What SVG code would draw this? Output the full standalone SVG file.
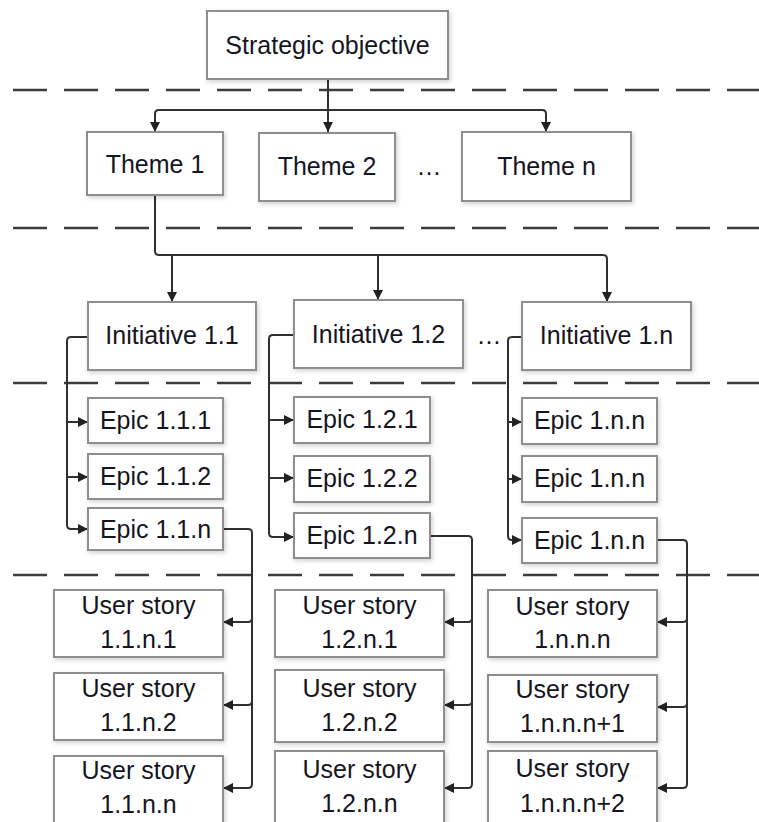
<svg xmlns="http://www.w3.org/2000/svg" width="759" height="822" viewBox="0 0 759 822">
<style>
.box{fill:#fff;stroke:#8e8e8e;stroke-width:2;filter:url(#sh)}
.t{font-family:"Liberation Sans",Arial,sans-serif;font-size:25px;fill:#15151f;text-anchor:middle}
.dash{stroke:#3c3c3c;stroke-width:2.5;stroke-dasharray:34 17;fill:none}
.c{fill:none;stroke:#303030;stroke-width:2}
.a{marker-end:url(#arr)}
</style>
<defs>
<filter id="sh" x="-10%" y="-10%" width="130%" height="140%">
<feDropShadow dx="1.5" dy="2" stdDeviation="2" flood-color="#000" flood-opacity="0.18"/>
</filter>
<marker id="arr" markerUnits="userSpaceOnUse" markerWidth="11" markerHeight="10" refX="10" refY="5" orient="auto">
<path d="M0,0 L10,5 L0,10 z" fill="#222"/>
</marker>
</defs>
<rect width="759" height="822" fill="#fff"/>

<g id="separators">
<line class="dash" x1="13" y1="90" x2="759" y2="90"/>
<line class="dash" x1="13" y1="228" x2="759" y2="228"/>
<line class="dash" x1="13" y1="383" x2="759" y2="383"/>
<line class="dash" x1="13" y1="575" x2="759" y2="575"/>
</g>

<g id="connectors">
<path class="c a" d="M328,79 V132"/>
<path class="c a" d="M328,110 H159 Q155,110 155,114 V132"/>
<path class="c a" d="M328,110 H542 Q546,110 546,114 V132"/>

<path class="c a" d="M155,195 V251 Q155,255 159,255 H603 Q607,255 607,259 V302"/>
<path class="c a" d="M172,255 V302"/>
<path class="c a" d="M378,255 V300"/>

<path class="c a" d="M88,337 H71 Q67,337 67,341 V525 Q67,529 71,529 H88"/>
<path class="c a" d="M67,422 H88"/>
<path class="c a" d="M67,477 H88"/>

<path class="c a" d="M294,335 H273 Q269,335 269,339 V533 Q269,537 273,537 H294"/>
<path class="c a" d="M269,420 H294"/>
<path class="c a" d="M269,478 H294"/>

<path class="c a" d="M522,337 H512 Q508,337 508,341 V536 Q508,540 512,540 H522"/>
<path class="c a" d="M508,422 H522"/>
<path class="c a" d="M508,479 H522"/>

<path class="c a" d="M223,529 H248 Q252,529 252,533 V784 Q252,788 248,788 H223"/>
<path class="c a" d="M252,600 V618 Q252,622 248,622 H223"/>
<path class="c a" d="M252,680 V701 Q252,705 248,705 H223"/>

<path class="c a" d="M430,536 H468 Q472,536 472,540 V784 Q472,788 468,788 H444"/>
<path class="c a" d="M472,600 V618 Q472,622 468,622 H444"/>
<path class="c a" d="M472,680 V701 Q472,705 468,705 H444"/>

<path class="c a" d="M657,540 H683 Q687,540 687,544 V784 Q687,788 683,788 H657"/>
<path class="c a" d="M687,600 V618 Q687,622 683,622 H657"/>
<path class="c a" d="M687,680 V703 Q687,707 683,707 H657"/>
</g>

<g id="strategic-objective"><rect class="box" x="207" y="11" width="241" height="68"/><text class="t" x="327.5" y="54">Strategic objective</text></g>

<g id="theme-1"><rect class="box" x="87" y="132" width="136" height="63"/><text class="t" x="155" y="173">Theme 1</text></g>
<g id="theme-2"><rect class="box" x="259" y="133" width="136" height="68"/><text class="t" x="327" y="175">Theme 2</text></g>
<g id="theme-ellipsis"><text class="t" x="429" y="175">…</text></g>
<g id="theme-n"><rect class="box" x="462" y="132" width="169" height="69"/><text class="t" x="546.5" y="175">Theme n</text></g>

<g id="initiative-1-1"><rect class="box" x="88" y="302" width="168" height="68"/><text class="t" x="172" y="344">Initiative 1.1</text></g>
<g id="initiative-1-2"><rect class="box" x="294" y="300" width="169" height="68"/><text class="t" x="378.5" y="343">Initiative 1.2</text></g>
<g id="initiative-ellipsis"><text class="t" x="489" y="344">…</text></g>
<g id="initiative-1-n"><rect class="box" x="522" y="302" width="169" height="68"/><text class="t" x="606.5" y="344">Initiative 1.n</text></g>

<g id="epic-1-1-1"><rect class="box" x="88" y="398" width="135" height="45"/><text class="t" x="155.5" y="429">Epic 1.1.1</text></g>
<g id="epic-1-1-2"><rect class="box" x="88" y="454" width="135" height="45"/><text class="t" x="155.5" y="485">Epic 1.1.2</text></g>
<g id="epic-1-1-n"><rect class="box" x="88" y="508" width="135" height="42"/><text class="t" x="155.5" y="538">Epic 1.1.n</text></g>

<g id="epic-1-2-1"><rect class="box" x="294" y="397" width="136" height="46"/><text class="t" x="362" y="428">Epic 1.2.1</text></g>
<g id="epic-1-2-2"><rect class="box" x="294" y="456" width="136" height="46"/><text class="t" x="362" y="487">Epic 1.2.2</text></g>
<g id="epic-1-2-n"><rect class="box" x="294" y="513" width="136" height="45"/><text class="t" x="362" y="544">Epic 1.2.n</text></g>

<g id="epic-1-n-n-a"><rect class="box" x="522" y="398" width="135" height="46"/><text class="t" x="589.5" y="429">Epic 1.n.n</text></g>
<g id="epic-1-n-n-b"><rect class="box" x="522" y="456" width="135" height="46"/><text class="t" x="589.5" y="487">Epic 1.n.n</text></g>
<g id="epic-1-n-n-c"><rect class="box" x="522" y="518" width="135" height="45"/><text class="t" x="589.5" y="549">Epic 1.n.n</text></g>

<g id="story-1-1-n-1"><rect class="box" x="54" y="590" width="169" height="67"/><text class="t" x="138.5" y="614">User story</text><text class="t" x="138.5" y="648">1.1.n.1</text></g>
<g id="story-1-1-n-2"><rect class="box" x="54" y="673" width="169" height="67"/><text class="t" x="138.5" y="697">User story</text><text class="t" x="138.5" y="731">1.1.n.2</text></g>
<g id="story-1-1-n-n"><rect class="box" x="54" y="756" width="169" height="72"/><text class="t" x="138.5" y="779">User story</text><text class="t" x="138.5" y="813">1.1.n.n</text></g>

<g id="story-1-2-n-1"><rect class="box" x="275" y="590" width="169" height="67"/><text class="t" x="359.5" y="614">User story</text><text class="t" x="359.5" y="648">1.2.n.1</text></g>
<g id="story-1-2-n-2"><rect class="box" x="275" y="670" width="169" height="72"/><text class="t" x="359.5" y="697">User story</text><text class="t" x="359.5" y="731">1.2.n.2</text></g>
<g id="story-1-2-n-n"><rect class="box" x="275" y="751" width="169" height="76"/><text class="t" x="359.5" y="778">User story</text><text class="t" x="359.5" y="812">1.2.n.n</text></g>

<g id="story-1-n-n-n"><rect class="box" x="488" y="590" width="169" height="67"/><text class="t" x="572.5" y="615">User story</text><text class="t" x="572.5" y="648">1.n.n.n</text></g>
<g id="story-1-n-n-n1"><rect class="box" x="488" y="675" width="169" height="67"/><text class="t" x="572.5" y="698">User story</text><text class="t" x="572.5" y="732">1.n.n.n+1</text></g>
<g id="story-1-n-n-n2"><rect class="box" x="488" y="751" width="169" height="76"/><text class="t" x="572.5" y="777">User story</text><text class="t" x="572.5" y="812">1.n.n.n+2</text></g>
</svg>
